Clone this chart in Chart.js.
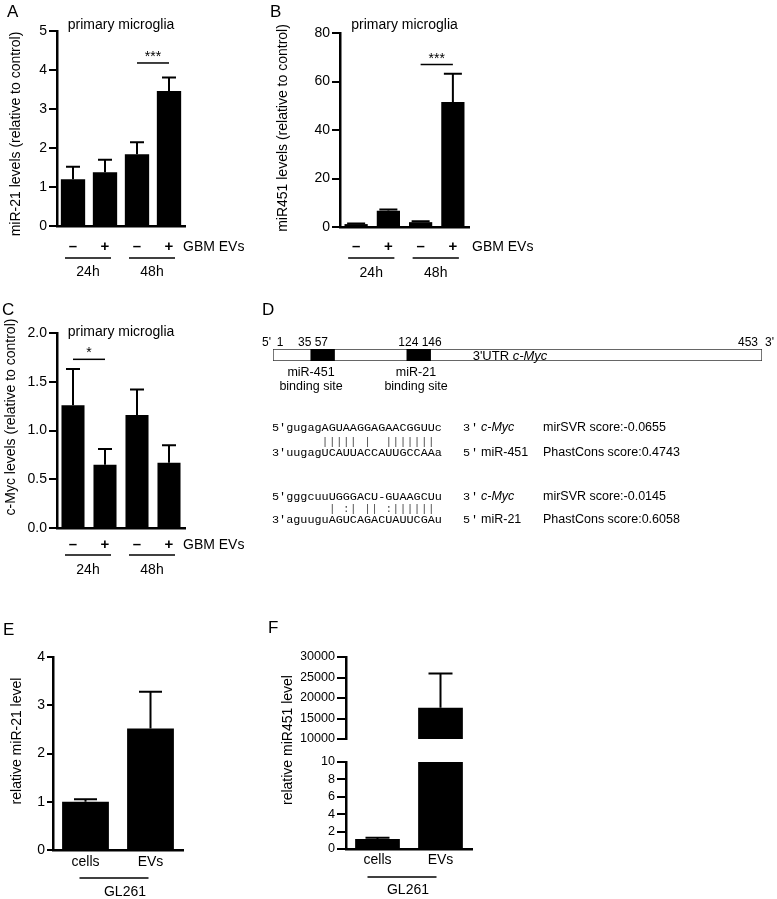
<!DOCTYPE html>
<html><head><meta charset="utf-8">
<script src="https://cdn.jsdelivr.net/npm/chart.js@4.4.1/dist/chart.umd.min.js"></script>
<style>
html,body{margin:0;padding:0;background:#fff;}
#wrap{position:relative;width:777px;height:899px;overflow:hidden;background:#fff;}
#wrap canvas{position:absolute;left:0;top:0;}
</style></head><body><div id="wrap"></div>
<script>
// ---------- DATA ----------
const treatLabels = ['–', '+', '–', '+'];
const timeGroups = ['24h', '48h'];
const mir21Means = [1.20, 1.38, 1.84, 3.46];
const mir21Sem = [0.32, 0.32, 0.31, 0.35];
const mir21Ticks = [0, 1, 2, 3, 4, 5];
const mir451Means = [1.2, 6.7, 2.0, 51.5];
const mir451Sem = [0.2, 0.5, 0.4, 11.7];
const mir451Ticks = [0, 20, 40, 60, 80];
const cmycMeans = [1.26, 0.65, 1.16, 0.67];
const cmycSem = [0.37, 0.16, 0.26, 0.18];
const cmycTicks = [0, 0.5, 1.0, 1.5, 2.0];
const gl261Labels = ['cells', 'EVs'];
const gl261Mir21Means = [1.0, 2.52];
const gl261Mir21Sem = [0.05, 0.76];
const gl261Mir21Ticks = [0, 1, 2, 3, 4];
const gl261Mir451Means = [1.15, 17600];
const gl261Mir451Sem = [0.15, 8400];
const gl261Mir451UpperTicks = [10000, 15000, 20000, 25000, 30000];
const gl261Mir451LowerTicks = [0, 2, 4, 6, 8, 10];
const utrLength = 453;
const bindingSites = [[35, 57], [124, 146]];
const bindingNames = ['miR-451', 'miR-21'];
const seqRows = [
  ["5'gugagAGUAAGGAGAACGGUUc", "3'", 'c-Myc', 'mirSVR score:-0.0655'],
  ["       ||||| |  |||||||", '', '', ''],
  ["3'uugagUCAUUACCAUUGCCAAa", "5'", 'miR-451', 'PhastCons score:0.4743'],
  ["5'gggcuuUGGGACU-GUAAGCUu", "3'", 'c-Myc', 'mirSVR score:-0.0145'],
  ["        | :| || :||||||", '', '', ''],
  ["3'aguuguAGUCAGACUAUUCGAu", "5'", 'miR-21', 'PhastCons score:0.6058']
];

// ---------- SETUP ----------
const W = 777, H = 899;
const SANS = "'Liberation Sans', Arial, sans-serif";
const MONO = "'Liberation Mono', 'Courier New', monospace";
Chart.defaults.font.family = SANS;
Chart.defaults.color = '#000';

function makeCanvas() {
  const c = document.createElement('canvas');
  c.width = W; c.height = H;
  c.style.width = W + 'px'; c.style.height = H + 'px';
  document.getElementById('wrap').appendChild(c);
  return c;
}
function txt(ctx, s, x, y, o = {}) {
  ctx.save();
  ctx.font = `${o.style || ''} ${o.weight || ''} ${o.size || 14}px ${o.family || SANS}`;
  ctx.fillStyle = o.color || '#000';
  ctx.textAlign = o.align || 'center';
  ctx.textBaseline = o.base || 'middle';
  ctx.translate(x, y);
  if (o.rot) ctx.rotate(o.rot);
  ctx.fillText(s, 0, 0);
  ctx.restore();
}
function hline(ctx, x0, x1, y, w) {
  ctx.save(); ctx.strokeStyle = '#000'; ctx.lineWidth = w || 1.5;
  ctx.beginPath(); ctx.moveTo(x0, y); ctx.lineTo(x1, y); ctx.stroke(); ctx.restore();
}
function drawErr(chart, o) {
  const ctx = chart.ctx, ys = chart.scales.y, meta = chart.getDatasetMeta(0);
  ctx.save(); ctx.strokeStyle = '#000'; ctx.lineWidth = 2;
  meta.data.forEach((bar, i) => {
    const v = o.means[i], e = o.sem[i];
    if (v == null || e == null || v < ys.min || v > ys.max) return;
    const y0 = ys.getPixelForValue(v), y1 = ys.getPixelForValue(v + e);
    ctx.beginPath();
    ctx.moveTo(bar.x, y0); ctx.lineTo(bar.x, y1);
    ctx.moveTo(bar.x - o.cap / 2, y1); ctx.lineTo(bar.x + o.cap / 2, y1);
    ctx.stroke();
  });
  ctx.restore();
}

function barPanel(o) {
  const c = makeCanvas();
  const yW = 45;
  const t = o.ticks;
  return new Chart(c, {
    type: 'bar',
    data: { labels: o.labels, datasets: [{ data: o.means, backgroundColor: '#000', borderWidth: 0, barPercentage: o.barPct, categoryPercentage: 1, clip: 0 }] },
    options: {
      responsive: false, animation: false, devicePixelRatio: 1,
      layout: { padding: { left: o.area.l - yW, top: o.area.t, right: W - o.area.r, bottom: H - o.area.b } },
      plugins: { legend: { display: false }, tooltip: { enabled: false }, title: { display: false } },
      scales: {
        x: { offset: true, grid: { display: false }, ticks: { display: false },
             border: { display: o.xBorder !== false, color: '#000', width: 2.5 },
             afterFit(s) { s.height = 0; } },
        y: { min: t[0], max: t[t.length - 1],
             afterBuildTicks(s) { s.ticks = t.map(v => ({ value: v })); },
             ticks: { autoSkip: false, font: { size: o.tickSize || 14 }, color: '#000', padding: o.tickPad || 2,
                      callback: (v) => o.fmt ? o.fmt(v) : String(v) },
             grid: { drawOnChartArea: false, drawTicks: true, tickLength: o.tickLen || 8, tickWidth: 2, tickColor: '#000', color: '#000', lineWidth: 2 },
             border: { color: '#000', width: 2.5 },
             afterFit(s) { s.width = yW; } }
      }
    },
    plugins: [{ id: 'ann', afterDraw(chart) { drawErr(chart, o); if (o.draw) o.draw(chart, chart.ctx); } }]
  });
}

// annotation for the microglia panels
function microgliaAnn(o) {
  return function (chart, ctx) {
    const xs = chart.scales.x, ys = chart.scales.y, a = chart.chartArea;
    const cx = i => xs.getPixelForValue(i);
    txt(ctx, o.letter, o.letterPos[0], o.letterPos[1], { size: 17, align: 'left', base: 'alphabetic' });
    txt(ctx, 'primary microglia', (a.left + a.right) / 2, o.titleY, { size: 14 });
    txt(ctx, o.yTitle, o.yTitlePos[0], o.yTitlePos[1], { size: 14, rot: -Math.PI / 2 });
    const sy = ys.getPixelForValue(o.sig.y);
    hline(ctx, cx(o.sig.i0), cx(o.sig.i1), sy, 1.5);
    txt(ctx, o.sig.stars, (cx(o.sig.i0) + cx(o.sig.i1)) / 2, sy - 2, { size: 14, base: 'alphabetic' });
    treatLabels.forEach((l, i) => txt(ctx, l, cx(i), a.bottom + o.dy[0], { size: 15, weight: 'bold' }));
    txt(ctx, 'GBM EVs', o.evX, a.bottom + o.dy[0], { size: 14, align: 'left' });
    timeGroups.forEach((g, k) => {
      const x0 = cx(2 * k) - 8, x1 = cx(2 * k + 1) + 6;
      hline(ctx, x0, x1, a.bottom + o.dy[1], 1.5);
      txt(ctx, g, (x0 + x1) / 2, a.bottom + o.dy[2], { size: 14 });
    });
  };
}

// ---------- PANEL A ----------
barPanel({
  area: { l: 57, t: 31, r: 185, b: 226 }, labels: treatLabels, means: mir21Means, sem: mir21Sem,
  ticks: mir21Ticks, cap: 14, barPct: 0.76,
  draw: microgliaAnn({ letter: 'A', letterPos: [7, 17], titleY: 25, yTitle: 'miR-21 levels (relative to control)',
    yTitlePos: [16, 134], sig: { i0: 2, i1: 3, y: 4.18, stars: '***' }, dy: [21, 32, 46], evX: 183 })
});
// ---------- PANEL B ----------
barPanel({
  area: { l: 340, t: 33, r: 469, b: 227 }, labels: treatLabels, means: mir451Means, sem: mir451Sem,
  ticks: mir451Ticks, cap: 18, barPct: 0.72,
  draw: microgliaAnn({ letter: 'B', letterPos: [270, 17], titleY: 25, yTitle: 'miR451 levels (relative to control)',
    yTitlePos: [283, 128], sig: { i0: 2, i1: 3, y: 67, stars: '***' }, dy: [20, 31, 46], evX: 472 })
});
// ---------- PANEL C ----------
barPanel({
  area: { l: 57, t: 333, r: 185, b: 528 }, labels: treatLabels, means: cmycMeans, sem: cmycSem,
  ticks: cmycTicks, cap: 14, barPct: 0.72, fmt: v => v.toFixed(1),
  draw: microgliaAnn({ letter: 'C', letterPos: [2, 315], titleY: 332, yTitle: 'c-Myc levels (relative to control)',
    yTitlePos: [11, 417], sig: { i0: 0, i1: 1, y: 1.73, stars: '*' }, dy: [17, 27, 42], evX: 183 })
});
// ---------- PANEL E ----------
barPanel({
  area: { l: 53, t: 657, r: 183, b: 850 }, labels: gl261Labels, means: gl261Mir21Means, sem: gl261Mir21Sem,
  ticks: gl261Mir21Ticks, cap: 23, barPct: 0.72, tickLen: 6,
  draw(chart, ctx) {
    const xs = chart.scales.x, a = chart.chartArea, cx = i => xs.getPixelForValue(i);
    txt(ctx, 'E', 3, 635, { size: 17, align: 'left', base: 'alphabetic' });
    txt(ctx, 'relative miR-21 level', 17, 741, { size: 14, rot: -Math.PI / 2 });
    gl261Labels.forEach((l, i) => txt(ctx, l, cx(i), a.bottom + 12, { size: 14 }));
    const x0 = cx(0) - 6, x1 = cx(1) - 2;
    hline(ctx, x0, x1, a.bottom + 28, 1.5);
    txt(ctx, 'GL261', (x0 + x1) / 2 + 11, a.bottom + 42, { size: 14 });
  }
});
// ---------- PANEL F (broken axis) ----------
barPanel({
  area: { l: 346, t: 657, r: 472, b: 739 }, labels: gl261Labels, means: gl261Mir451Means, sem: gl261Mir451Sem,
  ticks: gl261Mir451UpperTicks, cap: 24, barPct: 0.71, xBorder: false, tickSize: 12.6, tickLen: 9, tickPad: 2,
  draw(chart, ctx) {
    txt(ctx, 'F', 268, 633, { size: 17, align: 'left', base: 'alphabetic' });
  }
});
barPanel({
  area: { l: 346, t: 762, r: 472, b: 849 }, labels: gl261Labels, means: gl261Mir451Means, sem: gl261Mir451Sem,
  ticks: gl261Mir451LowerTicks, cap: 24, barPct: 0.71, tickSize: 12.6, tickLen: 9, tickPad: 2,
  draw(chart, ctx) {
    const xs = chart.scales.x, a = chart.chartArea, cx = i => xs.getPixelForValue(i);
    txt(ctx, 'relative miR451 level', 288, 740, { size: 14, rot: -Math.PI / 2 });
    gl261Labels.forEach((l, i) => txt(ctx, l, cx(i), a.bottom + 11, { size: 14 }));
    const x0 = cx(0) - 10, x1 = cx(1) - 4;
    hline(ctx, x0, x1, a.bottom + 28, 1.5);
    txt(ctx, 'GL261', (x0 + x1) / 2 + 6, a.bottom + 41, { size: 14 });
  }
});

// ---------- PANEL D (3'UTR diagram) ----------
(function () {
  const c = makeCanvas();
  const area = { l: 273, t: 349, r: 762, b: 361 };
  const ds = bindingSites.map(r => ({ data: [r], backgroundColor: '#000', borderWidth: 0, grouped: false, barPercentage: 1, categoryPercentage: 1 }));
  ds.push({ data: [[0, utrLength]], backgroundColor: '#fff', borderColor: '#333', borderWidth: 1, borderSkipped: false, grouped: false, barPercentage: 1, categoryPercentage: 1 });
  new Chart(c, {
    type: 'bar',
    data: { labels: ["3'UTR"], datasets: ds },
    options: {
      indexAxis: 'y', responsive: false, animation: false, devicePixelRatio: 1,
      layout: { padding: { left: area.l, top: area.t, right: W - area.r, bottom: H - area.b } },
      plugins: { legend: { display: false }, tooltip: { enabled: false } },
      scales: { x: { display: false, min: 0, max: utrLength }, y: { display: false } }
    },
    plugins: [{ id: 'dtext', afterDraw(chart) {
      const ctx = chart.ctx;
      txt(ctx, 'D', 262, 315, { size: 17, align: 'left', base: 'alphabetic' });
      txt(ctx, "5'", 262, 343, { size: 12, align: 'left' });
      txt(ctx, '1', 280, 343, { size: 12 });
      txt(ctx, bindingSites[0].join(' '), 313, 343, { size: 12 });
      txt(ctx, bindingSites[1].join(' '), 420, 343, { size: 12 });
      txt(ctx, String(utrLength), 748, 343, { size: 12 });
      txt(ctx, "3'", 765, 343, { size: 12, align: 'left' });
      ctx.save();
      ctx.font = `13px ${SANS}`; const w1 = ctx.measureText("3'UTR ").width;
      ctx.font = `italic 13px ${SANS}`; const w2 = ctx.measureText('c-Myc').width;
      ctx.restore();
      const sx = 510 - (w1 + w2) / 2;
      txt(ctx, "3'UTR ", sx, 356, { size: 13, align: 'left' });
      txt(ctx, 'c-Myc', sx + w1, 356, { size: 13, align: 'left', style: 'italic' });
      const lx = [311, 416];
      bindingNames.forEach((n, i) => {
        txt(ctx, n, lx[i], 373, { size: 12.5 });
        txt(ctx, 'binding site', lx[i], 387, { size: 12.5 });
      });
      const rowY = [428, 442, 453, 497, 509, 520];
      seqRows.forEach((r, i) => {
        const y = rowY[i];
        const isPipe = r[1] === '';
        txt(ctx, r[0], 272, y, { size: 11.8, align: 'left', family: MONO, color: isPipe ? '#555' : '#000' });
        if (!isPipe) {
          txt(ctx, r[1][0], 463, y, { size: 11.8, align: 'left', family: MONO });
          txt(ctx, r[1][1], 471, y, { size: 11.8, align: 'left', family: MONO });
          txt(ctx, r[2], 481, y, { size: 12.5, align: 'left', style: r[2] === 'c-Myc' ? 'italic' : '' });
          txt(ctx, r[3], 543, y, { size: 12.5, align: 'left' });
        }
      });
    } }]
  });
})();
</script>
</body></html>
